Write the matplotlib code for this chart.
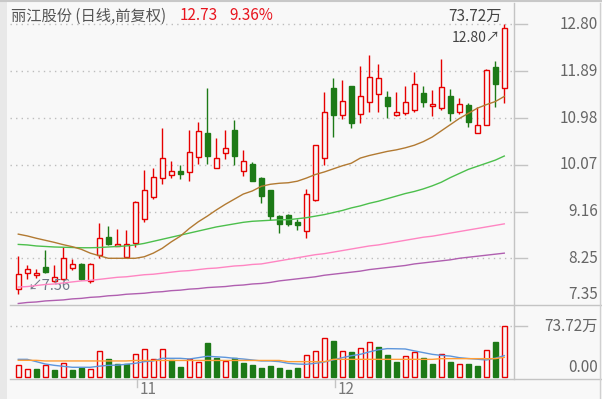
import matplotlib
matplotlib.use('Agg')
import matplotlib.pyplot as plt
import matplotlib.transforms as mtransforms
from matplotlib.patches import Rectangle

# ---------------- data ----------------
title = "丽江股份 (日线,前复权)"
last_price = "12.73"
last_change = "9.36%"

opens = [7.65, 7.96, 7.92, 8.08, 7.81, 7.84, 8.07, 8.14, 7.81, 8.31,
         8.67, 8.49, 8.27, 8.55, 9.01, 9.45, 9.81, 9.87, 9.95, 9.93,
         10.22, 10.69, 10.00, 10.30, 10.75, 9.95, 10.08, 9.82, 9.58, 9.07,
         9.09, 8.96, 8.79, 9.39, 10.20, 11.57, 11.03, 11.60, 11.06, 11.29,
         11.45, 11.39, 11.03, 11.08, 11.14, 11.47, 11.21, 11.18, 11.41, 11.10,
         11.23, 10.69, 10.84, 11.98, 11.56]
highs = [8.30, 8.12, 8.04, 8.41, 8.12, 8.46, 8.23, 8.15, 8.16, 8.93,
         8.88, 8.82, 8.80, 9.37, 9.97, 10.01, 10.78, 10.15, 10.07, 10.75,
         10.91, 11.56, 10.60, 10.75, 10.95, 10.36, 10.12, 9.84, 9.58, 9.09,
         9.11, 9.02, 9.60, 10.46, 11.48, 11.75, 11.71, 11.61, 11.99, 12.20,
         12.04, 11.50, 11.48, 11.60, 11.87, 11.60, 11.52, 12.12, 11.55, 11.36,
         11.27, 11.19, 11.93, 12.08, 12.80]
lows = [7.56, 7.85, 7.86, 7.97, 7.79, 7.82, 8.02, 7.83, 7.77, 8.25,
        8.51, 8.48, 8.25, 8.46, 8.96, 9.41, 9.70, 9.82, 9.80, 9.76,
        10.09, 10.09, 10.00, 10.19, 10.07, 9.85, 9.75, 9.33, 9.00, 8.75,
        8.87, 8.80, 8.65, 9.37, 10.07, 10.62, 10.97, 10.78, 10.89, 11.09,
        11.09, 10.98, 11.02, 11.03, 11.10, 11.19, 11.01, 11.14, 10.93, 11.06,
        10.80, 10.68, 10.84, 11.19, 11.28]
closes = [7.94, 8.04, 7.97, 7.98, 7.88, 8.25, 8.14, 7.85, 8.14, 8.64,
          8.53, 8.52, 8.52, 9.34, 9.58, 9.83, 10.20, 9.95, 9.90, 10.32,
          10.73, 10.25, 10.21, 10.39, 10.25, 10.14, 9.76, 9.47, 9.08, 8.92,
          8.92, 8.90, 9.50, 10.45, 11.10, 11.03, 11.31, 10.89, 11.41, 11.77,
          11.75, 11.21, 11.10, 11.29, 11.64, 11.30, 11.26, 11.58, 11.07, 11.26,
          10.90, 10.84, 11.92, 11.64, 12.73]

ma_brown = [8.72, 8.685, 8.64, 8.60, 8.56, 8.515, 8.476, 8.425, 8.35, 8.30,
            8.25, 8.25, 8.25, 8.25, 8.28, 8.35, 8.445, 8.57, 8.68, 8.83,
            8.96, 9.07, 9.19, 9.30, 9.40, 9.50, 9.56, 9.65, 9.69, 9.71,
            9.72, 9.75, 9.81, 9.88, 9.93, 9.99, 10.05, 10.10, 10.20, 10.25,
            10.29, 10.33, 10.36, 10.40, 10.45, 10.52, 10.61, 10.73, 10.85, 10.97,
            11.07, 11.17, 11.24, 11.30, 11.40]
ma_green = [8.52, 8.51, 8.49, 8.48, 8.47, 8.465, 8.46, 8.455, 8.455, 8.46,
            8.47, 8.48, 8.49, 8.51, 8.54, 8.58, 8.62, 8.66, 8.70, 8.74,
            8.78, 8.82, 8.86, 8.89, 8.92, 8.95, 8.97, 8.98, 8.99, 9.00,
            9.00, 9.02, 9.04, 9.07, 9.10, 9.14, 9.18, 9.23, 9.27, 9.32,
            9.36, 9.41, 9.46, 9.51, 9.55, 9.60, 9.66, 9.73, 9.82, 9.90,
            9.98, 10.04, 10.10, 10.16, 10.24]
ma_pink = [7.69, 7.70, 7.72, 7.74, 7.75, 7.77, 7.79, 7.81, 7.82, 7.84,
           7.86, 7.88, 7.89, 7.91, 7.93, 7.94, 7.96, 7.98, 8.00, 8.01,
           8.03, 8.05, 8.06, 8.08, 8.10, 8.11, 8.13, 8.14, 8.17, 8.20,
           8.23, 8.26, 8.29, 8.32, 8.34, 8.37, 8.40, 8.43, 8.46, 8.49,
           8.51, 8.54, 8.57, 8.60, 8.63, 8.66, 8.68, 8.71, 8.74, 8.77,
           8.80, 8.83, 8.86, 8.89, 8.92]
ma_purple = [7.37, 7.39, 7.40, 7.42, 7.43, 7.44, 7.46, 7.47, 7.49, 7.50,
             7.52, 7.53, 7.55, 7.56, 7.57, 7.59, 7.60, 7.62, 7.63, 7.65,
             7.66, 7.68, 7.69, 7.70, 7.72, 7.73, 7.75, 7.76, 7.78, 7.81,
             7.83, 7.85, 7.87, 7.89, 7.92, 7.94, 7.96, 7.98, 8.00, 8.03,
             8.05, 8.07, 8.09, 8.11, 8.14, 8.16, 8.18, 8.20, 8.22, 8.25,
             8.27, 8.29, 8.31, 8.33, 8.35]

# volume in 万
volumes = [17.7, 12.0, 12.0, 17.7, 10.5, 20.6, 10.5, 13.9, 12.0, 37.8,
           26.3, 19.1, 19.1, 33.5, 40.7, 26.3, 40.7, 24.4, 14.8, 26.3,
           22.0, 49.8, 28.2, 23.5, 27.3, 21.1, 17.7, 13.9, 16.3, 13.9,
           11.0, 13.9, 32.1, 37.8, 56.5, 52.7, 37.8, 36.4, 42.1, 50.7,
           44.0, 32.1, 22.5, 30.6, 36.4, 28.2, 19.1, 33.0, 22.0, 19.1,
           19.1, 16.3, 39.3, 51.2, 73.72]
vol_up = [1, 1, 0, 1, 0, 1, 0, 0, 1, 1,
          0, 0, 0, 1, 1, 1, 1, 0, 0, 1,
          1, 0, 0, 1, 0, 0, 0, 0, 0, 0,
          0, 0, 1, 1, 1, 0, 1, 0, 1, 1,
          0, 0, 0, 1, 1, 0, 0, 1, 0, 1,
          0, 0, 1, 0, 1]
vol_ma_blue = [25.8, 25.8, 22.5, 19.1, 17.2, 15.8, 14.4, 14.4, 14.4, 16.0,
               17.2, 17.5, 18.7, 20.1, 22.5, 23.5, 27.3, 27.3, 27.3, 26.3,
               28.2, 30.2, 29.5, 28.7, 27.3, 26.3, 24.9, 23.5, 23.5, 22.5,
               20.1, 19.1, 18.7, 20.1, 22.0, 25.0, 28.2, 31.0, 33.0, 36.5,
               39.5, 41.2, 41.0, 40.7, 38.0, 35.5, 33.0, 31.5, 30.5, 28.2,
               27.0, 26.0, 24.9, 27.5, 31.1]
vol_ma_orange = [24.4, 24.4, 24.4, 23.5, 23.5, 23.5, 23.5, 23.5, 23.5, 23.5,
                 23.5, 23.5, 23.5, 24.2, 24.2, 24.2, 24.2, 24.2, 24.2, 24.2,
                 24.2, 24.2, 24.2, 24.2, 24.2, 24.2, 24.2, 24.2, 24.2, 24.2,
                 22.5, 22.5, 22.5, 22.5, 22.5, 25.8, 25.8, 25.8, 25.8, 25.8,
                 25.8, 25.8, 25.8, 25.8, 25.8, 25.8, 25.8, 26.8, 26.8, 26.8,
                 26.8, 26.8, 26.8, 26.8, 28.7]

price_levels = [12.80, 11.89, 10.98, 10.07, 9.16, 8.25, 7.35]
vol_max_label = "73.72万"
vol_max = 73.72
month_labels = ["11", "12"]
month_first_idx = [13, 35]
high_label = "12.80"
low_label = "7.56"

# ---------------- style ----------------
BG = '#f8f8f8'
RED = '#e60000'
GRN = '#1d7a17'
GRAY_TXT = '#666666'
LINE = '#c4c4c4'
GRID = '#bdbdbd'
FONT = ['Noto Sans CJK SC', 'DejaVu Sans']

W, H = 602, 399
fig = plt.figure(figsize=(W / 100, H / 100), dpi=100)
fig.patch.set_facecolor(BG)


def rect(x0, y0, x1, y1):
    return [x0 / W, 1 - y1 / H, (x1 - x0) / W, (y1 - y0) / H]


ax = fig.add_axes(rect(10, 3, 514, 305))
axv = fig.add_axes(rect(10, 305, 514, 379))
n = len(closes)
xs = list(range(n))

for a in (ax, axv):
    a.set_facecolor(BG)
    for s in a.spines.values():
        s.set_visible(False)
    a.set_xticks([])
    a.set_yticks([])
    a.set_xlim(-0.92, 55.08)

ax.set_ylim(7.341, 13.218)
axv.set_ylim(-2.44, 103.9)


def fline(x0, y0, x1, y1, **kw):
    fig.add_artist(plt.Line2D([x0 / W, x1 / W], [1 - y0 / H, 1 - y1 / H],
                              transform=fig.transFigure, **kw))


fig.add_artist(Rectangle((0, 0), 7 / W, 1, transform=fig.transFigure,
                         facecolor='#e8e8e8', edgecolor='none'))
fline(0, 1, W, 1, color='#c8c8c8', lw=1.5)
fline(10, 305, W, 305, color=LINE, lw=1)
fline(10, 379, W, 379, color=LINE, lw=1)
fline(514, 3, 514, 379, color=LINE, lw=1)
fline(600, 3, 600, 399, color='#d0d0d0', lw=1)

# price grid, ticks, labels
tr_p = mtransforms.blended_transform_factory(fig.transFigure, ax.transData)
for lv in price_levels:
    lab = f"{lv:.2f}"
    if lv != price_levels[-1]:
        ax.axhline(lv, color=GRID, lw=1, ls=(0, (1, 3)), zorder=1)
        ax.plot([514 / W, 527 / W], [lv, lv], transform=tr_p, color=LINE,
                lw=1, clip_on=False)
        ax.text(598 / W, lv, lab, transform=tr_p, ha='right', va='center',
                fontsize=11, color=GRAY_TXT, family=FONT)
    else:
        ax.annotate(lab, xy=(598 / W, lv), xycoords=tr_p, xytext=(0, 10),
                    textcoords='offset pixels', ha='right', va='center',
                    fontsize=11, color=GRAY_TXT, family=FONT)

# candles
for i in xs:
    o, h, l, c = opens[i], highs[i], lows[i], closes[i]
    up = c >= o
    col = RED if up else GRN
    ax.vlines(i, l, h, color=col, lw=1, zorder=2)
    bot = min(o, c)
    hgt = max(abs(c - o), 0.012)
    ax.bar(i, hgt, bottom=bot, width=0.5,
           facecolor=BG if up else GRN, edgecolor=col, lw=1, zorder=3)

# moving averages
ax.plot(xs, ma_purple, color='#b05fb0', lw=1, zorder=4)
ax.plot(xs, ma_pink, color='#ff85c2', lw=1, zorder=4)
ax.plot(xs, ma_green, color='#4cbf4c', lw=1, zorder=4)
ax.plot(xs, ma_brown, color='#b27a32', lw=1, zorder=4)

# volume
tr_v = mtransforms.blended_transform_factory(fig.transFigure, axv.transData)
axv.axhline(vol_max, color=GRID, lw=1, ls=(0, (1, 3)), zorder=1)
axv.plot([514 / W, 527 / W], [vol_max, vol_max], transform=tr_v, color=LINE,
         lw=1, clip_on=False)
axv.text(598 / W, vol_max, vol_max_label, transform=tr_v, ha='right',
         va='center', fontsize=11, color=GRAY_TXT, family=FONT)
axv.annotate("0.00", xy=(598 / W, 0), xycoords=tr_v, xytext=(0, 10),
             textcoords='offset pixels', ha='right', va='center',
             fontsize=11, color=GRAY_TXT, family=FONT)
for i in xs:
    upv = vol_up[i] == 1
    axv.bar(i, volumes[i], bottom=0, width=0.5,
            facecolor=BG if upv else GRN, edgecolor=RED if upv else GRN,
            lw=1, zorder=3)
axv.plot(xs, vol_ma_blue, color='#5d96dc', lw=1, zorder=4)
axv.plot(xs, vol_ma_orange, color='#ff9d35', lw=1, zorder=4)

# month ticks
tr_x = mtransforms.blended_transform_factory(axv.transData, fig.transFigure)
for lab, idx in zip(month_labels, month_first_idx):
    axv.plot([idx + 0.2, idx + 0.2], [1 - 379 / H, 1 - 387 / H],
             transform=tr_x, color=LINE, lw=1, clip_on=False)
    axv.annotate(lab, xy=(idx + 0.2, 1 - 389 / H), xycoords=tr_x,
                 xytext=(3, 0), textcoords='offset pixels', ha='left',
                 va='center', fontsize=11, color='#777777', family=FONT)

# header
fig.text(11 / W, 1 - 16 / H, title, ha='left', va='center', fontsize=11,
         color='#555555', family=FONT)
fig.text(180 / W, 1 - 16 / H, last_price, ha='left', va='center',
         fontsize=11, color='#e8141e', family=FONT)
fig.text(229 / W, 1 - 16 / H, last_change, ha='left', va='center',
         fontsize=11, color='#e8141e', family=FONT)

# annotations on chart
fig.text(502 / W, 1 - 16 / H, vol_max_label, ha='right', va='center',
         fontsize=11, color='#444444', family=FONT)
ax.annotate(high_label + "↗", xy=(n - 1, highs[-1]), xytext=(-4, -14),
            textcoords='offset pixels', ha='right', va='center',
            fontsize=10, color='#444444', family=FONT)
ax.annotate("↙" + low_label, xy=(0, lows[0]), xytext=(9, 8),
            textcoords='offset pixels', ha='left', va='center',
            fontsize=10.5, color='#707888', family=FONT)

fig.savefig('out.png', dpi=100, facecolor=BG)
